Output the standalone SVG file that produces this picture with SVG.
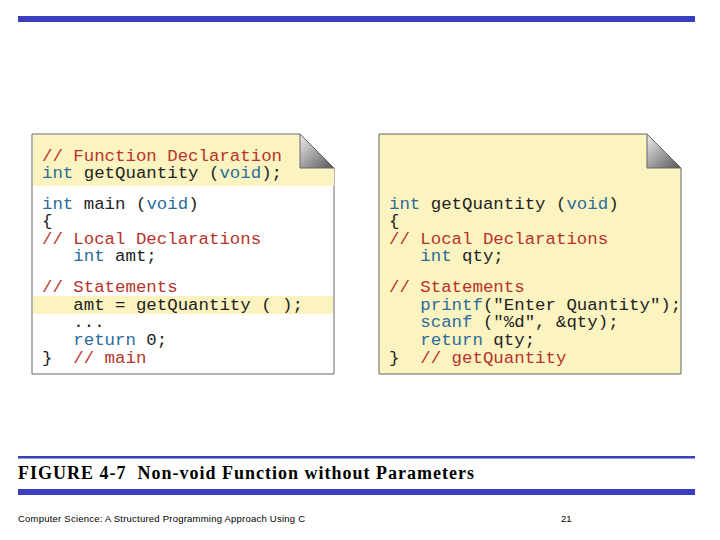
<svg xmlns="http://www.w3.org/2000/svg" width="720" height="540" viewBox="0 0 720 540">
<style>
.code{font-family:"Liberation Mono","Courier New",monospace;font-size:17.4px;fill:#222;white-space:pre}
.c{fill:#b8322c}.k{fill:#2b6c9c}
.page{stroke:#666;stroke-width:1}
</style>
<defs>
<linearGradient id="fold" x1="0" y1="0" x2="1" y2="1"><stop offset="0" stop-color="#eee"/><stop offset="1" stop-color="#555"/></linearGradient>
</defs>
<rect x="18" y="16" width="677" height="6" fill="#3a3fc0"/>
<g id="main">
<path d="M32 134H300L334 168V374H32Z" fill="#fff" class="page"/>
<path d="M33 135H300L334 168V186H33Z" fill="#fbf3c0"/>
<rect x="33" y="296" width="300" height="18" fill="#fbf3c0"/>
<path d="M300 134L334 168H300Z" fill="url(#fold)" stroke="#666"/>
<text class="code" x="42"><tspan y="161" class="c">// Function Declaration</tspan><tspan x="42" y="178"><tspan class="k">int</tspan> getQuantity (<tspan class="k">void</tspan>);</tspan><tspan x="42" y="209"><tspan class="k">int</tspan> main (<tspan class="k">void</tspan>)</tspan><tspan x="42" y="226">{</tspan><tspan x="42" y="244" class="c">// Local Declarations</tspan><tspan x="42" y="261">   <tspan class="k">int</tspan> amt;</tspan><tspan x="42" y="292" class="c">// Statements</tspan><tspan x="42" y="310">   amt = getQuantity ( );</tspan><tspan x="42" y="327">   ...</tspan><tspan x="42" y="345">   <tspan class="k">return</tspan> 0;</tspan><tspan x="42" y="363">}  <tspan class="c">// main</tspan></tspan></text>
</g>
<g id="getQuantity">
<path d="M379 134H647L681 168V374H379Z" fill="#fbf3c0" class="page"/>
<path d="M647 134L681 168H647Z" fill="url(#fold)" stroke="#666"/>
<text class="code" x="389"><tspan y="209"><tspan class="k">int</tspan> getQuantity (<tspan class="k">void</tspan>)</tspan><tspan x="389" y="226">{</tspan><tspan x="389" y="244" class="c">// Local Declarations</tspan><tspan x="389" y="261">   <tspan class="k">int</tspan> qty;</tspan><tspan x="389" y="292" class="c">// Statements</tspan><tspan x="389" y="310">   <tspan class="k">printf</tspan>("Enter Quantity");</tspan><tspan x="389" y="327">   <tspan class="k">scanf</tspan> ("%d", &amp;qty);</tspan><tspan x="389" y="345">   <tspan class="k">return</tspan> qty;</tspan><tspan x="389" y="363">}  <tspan class="c">// getQuantity</tspan></tspan></text>
</g>
<rect x="18" y="456" width="677" height="2.5" fill="#3a3fc0"/>
<text x="18" y="479" font-family="Liberation Serif,serif" font-size="18" font-weight="bold" fill="#000" textLength="456" style="white-space:pre">FIGURE 4-7  Non-void Function without Parameters</text>
<rect x="18" y="489" width="677" height="6" fill="#3a3fc0"/>
<text x="18" y="522" font-family="Liberation Sans,sans-serif" font-size="9.5" fill="#000" textLength="287">Computer Science: A Structured Programming Approach Using C</text>
<text x="561" y="522" font-family="Liberation Sans,sans-serif" font-size="9.5" fill="#000">21</text>
</svg>
